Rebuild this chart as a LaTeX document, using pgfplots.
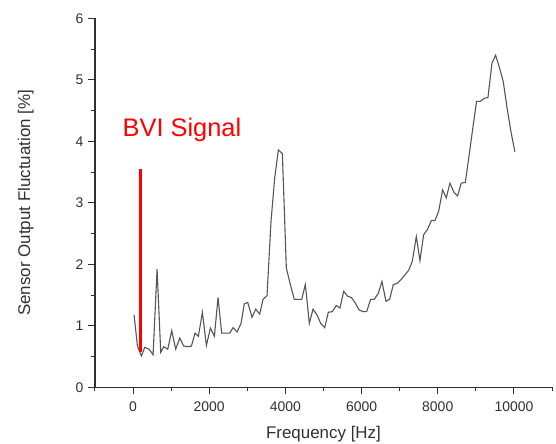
\documentclass[border=0pt]{standalone}
\usepackage{fontspec}
\setmainfont{Liberation Sans}
\usepackage{pgfplots}
\pgfplotsset{compat=1.18}

\definecolor{traceGray}{HTML}{555555}
\definecolor{axisGray}{HTML}{303030}

\begin{document}
\begin{tikzpicture}
\begin{axis}[
    name=ax,
    scale only axis,
    width=457bp, height=369bp,
    xmin=-1000, xmax=11000, ymin=0, ymax=6,
    axis x line=bottom, axis y line=left,
    axis line style={-, axisGray, line width=1.1bp},
    xtick={0,2000,...,10000},
    minor xtick={-1000,1000,3000,5000,7000,9000,11000},
    ytick={0,1,...,6},
    minor ytick={0.5,1.5,...,5.5},
    tick align=outside,
    major tick length=7bp, minor tick length=4bp,
    every tick/.style={axisGray, line width=1bp},
    scaled x ticks=false,
    /pgf/number format/1000 sep={},
    /pgf/number format/assume math mode=true,
    tick label style={font=\fontsize{14}{14}\selectfont, text=axisGray},
    xticklabel style={yshift=-4bp},
    yticklabel style={xshift=-1bp},
    xlabel={Frequency [Hz]},
    ylabel={Sensor Output Fluctuation [\%]},
    label style={font=\fontsize{17}{17}\selectfont, text=axisGray},
    xlabel style={at={(axis description cs:0.5,-0.1374)}, anchor=base},
    ylabel style={at={(axis description cs:-0.1422,0.5)}, anchor=base},
]
\addplot[traceGray, line width=1.1bp] coordinates {
(26,1.18) (114,0.67) (219,0.51) (306,0.65) (420,0.62) (525,0.53) (630,1.92)
(726,0.57) (805,0.66) (910,0.62) (1015,0.92) (1120,0.62) (1225,0.80) (1330,0.67)
(1435,0.66) (1531,0.67) (1627,0.88) (1715,0.83) (1820,1.22) (1925,0.68) (2030,0.96)
(2135,0.83) (2231,1.46) (2327,0.88) (2432,0.88) (2537,0.88) (2625,0.97) (2730,0.90)
(2835,1.04) (2922,1.36) (3010,1.38) (3123,1.14) (3220,1.27) (3325,1.19) (3412,1.43)
(3517,1.49) (3622,2.70) (3718,3.40) (3815,3.86) (3920,3.80) (4024,1.94) (4129,1.67)
(4234,1.43) (4331,1.43) (4427,1.43) (4523,1.67) (4628,1.04) (4724,1.27) (4829,1.18)
(4926,1.04) (5031,0.97) (5127,1.22) (5232,1.23) (5337,1.33) (5433,1.29) (5530,1.56)
(5634,1.48) (5731,1.46) (5836,1.37) (5932,1.26) (6037,1.23) (6133,1.23) (6238,1.43)
(6334,1.43) (6439,1.53) (6535,1.72) (6640,1.40) (6737,1.43) (6833,1.67) (6938,1.69)
(7034,1.75) (7139,1.83) (7235,1.90) (7332,2.05) (7437,2.45) (7533,2.06) (7629,2.48)
(7734,2.57) (7830,2.71) (7926,2.71) (8023,2.86) (8128,3.21) (8224,3.08) (8320,3.32)
(8425,3.17) (8521,3.11) (8618,3.32) (8723,3.33) (8819,3.75) (8915,4.19) (9020,4.65)
(9116,4.65) (9221,4.70) (9318,4.71) (9423,5.27) (9519,5.40) (9624,5.19) (9720,4.97)
(9816,4.56) (9921,4.16) (10026,3.83)
};
% BVI signal marker
\addplot[red, line width=3.3bp] coordinates {(200,0.57) (200,3.55)};
\node[anchor=base west, inner sep=0pt, text=red,
      font=\fontsize{25.5}{25.5}\selectfont] at (axis cs:-280,4.07) {BVI Signal};
\end{axis}
\pgfresetboundingbox
\path[use as bounding box] (ax.south west) ++(-95bp,-56.7bp) rectangle ++(556bp,444bp);
\end{tikzpicture}
\end{document}
